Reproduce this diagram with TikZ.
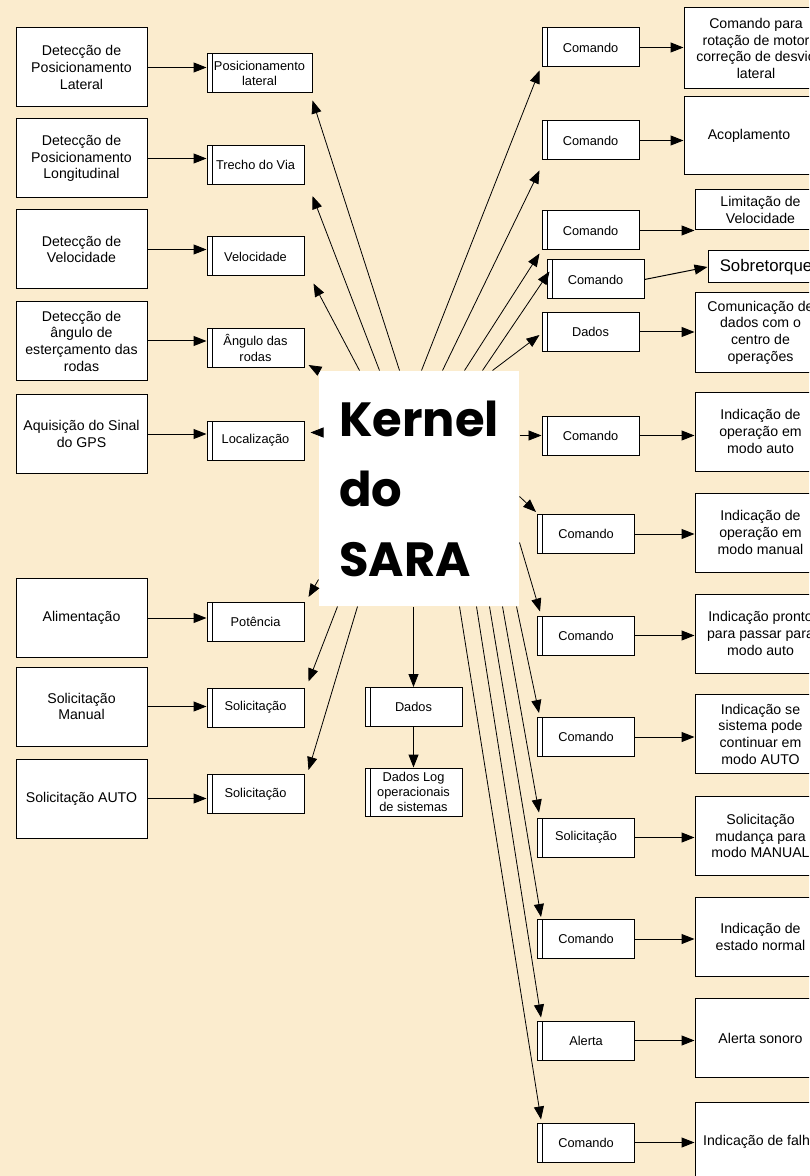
\documentclass[tikz,border=0pt]{standalone}
\usepackage{fontspec}
\setmainfont{Liberation Sans}
\newfontfamily\kernelfont{Poppins}
\usepackage{xcolor}
\usetikzlibrary{arrows.meta,calc}
\definecolor{parch}{RGB}{251,236,206}

\begin{document}
\begin{tikzpicture}[x=0.75pt, y=-0.75pt, line width=0.75pt,
  font=\fontsize{10.6}{12.5}\selectfont,
  proc/.style={draw, fill=white, align=center, minimum width=98.25pt, minimum height=59.25pt, inner sep=1pt},
  store/.style={draw, fill=white, align=center, font=\fontsize{9.6}{11.5}\selectfont,
    minimum width=72.75pt, minimum height=29.25pt, inner sep=1pt,
    path picture={\draw ([xshift=3.75pt]path picture bounding box.north west) -- ([xshift=3.75pt]path picture bounding box.south west);}},
  arr/.style={-{Triangle[length=9.75pt,width=7.5pt]}},
  ray/.style={-{Triangle[length=9.75pt,width=7.5pt]}, line width=0.6pt}]
  \useasboundingbox (0,0) rectangle (809,1176);
  \clip (0,0) rectangle (809,1176);
  \fill[parch] (0,0) rectangle (809,1176);

  % sources on the left
  \foreach \n/\y/\t in {d1/67.5/{Detecção de\\Posicionamento\\Lateral},
      d2/158.5/{Detecção de\\Posicionamento\\Longitudinal},
      d3/249.5/{Detecção de\\Velocidade},
      d4/341/{Detecção de\\ângulo de\\esterçamento das\\rodas},
      d5/434/{Aquisição do Sinal\\do GPS},
      d6/618/{Alimentação},
      d7/706.5/{Solicitação\\Manual},
      d8/798.5/{Solicitação AUTO}}
    {\node[proc] (\n) at (81.5,\y) {\t};}
  \node[store, minimum width=78.75pt] (s1) at (259.5,73.5) {Posicionamento\\lateral};
  \foreach \n/\y/\t in {s2/165/{Trecho do Via}, s3/256.5/Velocidade, s4/348/{Ângulo das\\rodas},
      s5/440.5/Localização, s6/622/Potência, s7/707.5/Solicitação, s8/794/Solicitação}
    {\node[store] (\n) at (255.5,\y) {\t};}
  \foreach \i in {1,...,8} {\draw[arr] (d\i.east) -- (d\i.east -| s\i.west);}

  \node[fill=white, minimum width=150pt, minimum height=176.25pt, inner sep=0pt, align=left,
    font=\kernelfont\bfseries\fontsize{36}{52.5}\selectfont] (kernel) at (419,488.5) {Kernel\\do\\SARA};

  \node[store] (dados) at (413.5,707) {Dados};
  \node[store, minimum height=36pt] (log) at (413.5,792) {Dados Log\\operacionais\\de sistemas};

  % flows on the right
  \foreach \n/\x/\y/\t in {c1/590.5/47.5/Comando, c2/590.5/140.5/Comando, c3/590.5/230.5/Comando,
      c4/595.5/279.5/Comando, c5/590.5/332/Dados, c6/590.5/435.5/Comando, c7/586/534/Comando,
      c8/586/635.5/Comando, c9/586/737/Comando, c10/586/837.5/Solicitação, c11/586/939/Comando,
      c12/586/1040.5/Alerta, c13/586/1142.5/Comando}
    {\node[store] (\n) at (\x,\y) {\t};}

  \node[proc, minimum width=108pt, minimum height=60.75pt] (r1) at (756,48.5) {Comando para\\rotação de motor\\correção de desvio\\lateral};
  \node[proc, minimum width=97.5pt, minimum height=58.5pt] (r2) at (749,136) {Acoplamento};
  \node[proc, minimum height=30pt] (r3) at (760.5,210) {Limitação de\\Velocidade};
  \node[proc, minimum width=87pt, minimum height=24pt, font=\fontsize{12.6}{14}\selectfont] (r4) at (766,267) {Sobretorque};
  \foreach \n/\y/\t in {r5/332.5/{Comunicação de\\dados com o\\centro de\\operações},
      r6/431.5/{Indicação de\\operação em\\modo auto},
      r7/532.5/{Indicação de\\operação em\\modo manual},
      r8/633.5/{Indicação pronto\\para passar para\\modo auto},
      r9/734/{Indicação se\\sistema pode\\continuar em\\modo AUTO},
      r10/836/{Solicitação\\mudança para\\modo MANUAL},
      r11/937/{Indicação de\\estado normal},
      r12/1038/{Alerta sonoro},
      r13/1141.5/{Indicação de falha}}
    {\node[proc] (\n) at (760.5,\y) {\t};}
  \foreach \i in {1,2,3,5,6,7,8,9,10,11,12,13} {\draw[arr] (c\i.east) -- (c\i.east -| r\i.west);}
  \draw[arr] (c4.east) -- (r4.west);

  % kernel outputs
  \draw[ray] ($(kernel.north west)+(41,0)$) -- ($(s3.south east)+(9,7)$);
  \draw[ray] ($(kernel.north west)+(61,0)$) -- ($(s2.south east)+(8,11)$);
  \draw[ray] ($(kernel.north west)+(81,0)$) -- ($(s1.south east)+(0,7)$);
  \draw[ray] (kernel.north west) -- ($(s4.south east)+(4,-3)$);
  \draw[ray] ($(kernel.north west)+(0,62)$) -- ($(s5.north east)+(6,12)$);
  \draw[ray] ($(kernel.north west)+(0,209)$) -- ($(s6.north east)+(4,-5)$);
  \draw[ray] ($(kernel.south west)+(19,0)$) -- ($(s7.north east)+(4,-6)$);
  \draw[ray] ($(kernel.south west)+(39,0)$) -- ($(s8.north east)+(4,-4)$);
  \draw[ray] (dados.north |- kernel.south) -- (dados.north);
  \draw[arr] (dados.south) -- (log.north);
  \draw[ray] ($(kernel.north west)+(103,0)$) -- ($(c1.south west)+(-2,3)$);
  \draw[ray] ($(kernel.north west)+(124,0)$) -- ($(c2.south west)+(-2,10)$);
  \draw[ray] ($(kernel.north west)+(146,0)$) -- ($(c3.south west)+(-2,3)$);
  \draw[ray] ($(kernel.north west)+(164,0)$) -- ($(c4.west)+(3,-8)$);
  \draw[ray] ($(kernel.north west)+(174,0)$) -- ($(c5.west)+(-2,3)$);
  \draw[ray] (kernel.east |- c6.west) -- (c6.west);
  \draw[ray] ($(kernel.north east)+(0,126)$) -- ($(c7.north west)+(-1,-2)$);
  \draw[ray] ($(kernel.north east)+(0,172)$) -- ($(c8.north west)+(3,-4)$);
  \draw[ray] ($(kernel.south west)+(198,0)$) -- ($(c9.north west)+(2,-4)$);
  \draw[ray] ($(kernel.south west)+(184,0)$) -- ($(c10.north west)+(2,-5)$);
  \draw[ray] ($(kernel.south west)+(171,0)$) -- ($(c11.north west)+(4,-2)$);
  \draw[ray] ($(kernel.south west)+(158,0)$) -- ($(c12.north west)+(4,-3)$);
  \draw[ray] ($(kernel.south west)+(141,0)$) -- ($(c13.north west)+(4,-3)$);
\end{tikzpicture}
\end{document}
